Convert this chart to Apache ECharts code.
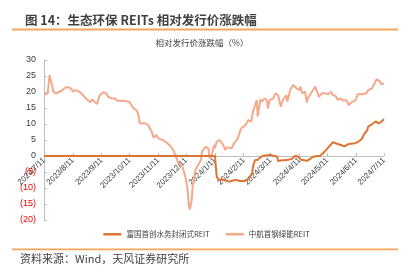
<!DOCTYPE html>
<html><head><meta charset="utf-8">
<script src="https://cdn.jsdelivr.net/npm/echarts@6/dist/echarts.min.js"></script>
<style>html,body{margin:0;padding:0;background:#fff}#c{width:413px;height:274px}</style>
</head><body><div id="c"></div>
<script>
const titleText = '图 14：生态环保 REITs 相对发行价涨跌幅';
const subTitleText = '相对发行价涨跌幅（%）';
const sourceText = '资料来源：Wind，天风证券研究所';
const seriesNames = ['富国首创水务封闭式REIT', '中航首钢绿能REIT'];

const darkDates = ['2023-07-11','2024-01-11','2024-01-12','2024-01-13','2024-01-15','2024-01-19','2024-01-24','2024-01-27','2024-02-02','2024-02-07','2024-02-12','2024-02-16','2024-02-18','2024-02-20','2024-02-21','2024-02-23','2024-02-25','2024-02-26','2024-02-29','2024-03-03','2024-03-07','2024-03-10','2024-03-14','2024-03-18','2024-03-19','2024-03-23','2024-03-26','2024-03-30','2024-04-03','2024-04-06','2024-04-09','2024-04-13','2024-04-15','2024-04-19','2024-04-22','2024-04-26','2024-04-30','2024-05-03','2024-05-06','2024-05-10','2024-05-12','2024-05-15','2024-05-17','2024-05-20','2024-05-22','2024-05-27','2024-05-30','2024-06-02','2024-06-07','2024-06-10','2024-06-13','2024-06-17','2024-06-19','2024-06-23','2024-06-24','2024-06-27','2024-06-29','2024-07-02','2024-07-05','2024-07-06','2024-07-08','2024-07-10','2024-07-11'];
const darkValues = [0,0,-3.5,-6.5,-7.5,-7.3,-7.8,-8,-7.4,-7.8,-7.8,-7.2,-6.3,-5.6,-3.3,-1.3,-0.7,-1.2,-0.4,0.1,0.2,0.4,0.1,-0.2,-1.6,-1.3,-1.3,-1.2,-0.9,0,-0.1,-1.2,-0.9,-1.5,-1.0,-0.2,0,0,0.8,2.0,2.7,3.6,4.3,4.0,3.7,3.3,3.0,3.7,3.9,4.0,4.4,5.3,6.5,8.1,9.2,9.7,9.2,10.8,10.2,9.7,10.7,11.2,11.5];

const lightDates = ['2023-07-11','2023-07-13','2023-07-15','2023-07-17','2023-07-20','2023-07-21','2023-07-24','2023-07-26','2023-07-30','2023-08-03','2023-08-07','2023-08-10','2023-08-11','2023-08-14','2023-08-18','2023-08-21','2023-08-24','2023-08-27','2023-08-30','2023-09-01','2023-09-03','2023-09-06','2023-09-07','2023-09-09','2023-09-13','2023-09-16','2023-09-18','2023-09-22','2023-09-25','2023-09-28','2023-10-03','2023-10-08','2023-10-11','2023-10-15','2023-10-17','2023-10-19','2023-10-21','2023-10-22','2023-10-24','2023-10-28','2023-10-31','2023-11-02','2023-11-04','2023-11-06','2023-11-09','2023-11-11','2023-11-16','2023-11-20','2023-11-24','2023-11-27','2023-11-30','2023-12-02','2023-12-07','2023-12-09','2023-12-11','2023-12-13','2023-12-14','2023-12-15','2023-12-17','2023-12-18','2023-12-21','2023-12-23','2023-12-25','2023-12-27','2023-12-28','2023-12-30','2024-01-01','2024-01-04','2024-01-05','2024-01-07','2024-01-08','2024-01-10','2024-01-11','2024-01-13','2024-01-16','2024-01-20','2024-01-22','2024-01-24','2024-01-26','2024-01-29','2024-02-01','2024-02-04','2024-02-06','2024-02-08','2024-02-10','2024-02-13','2024-02-16','2024-02-19','2024-02-21','2024-02-22','2024-02-23','2024-02-25','2024-02-26','2024-02-29','2024-03-02','2024-03-04','2024-03-07','2024-03-08','2024-03-10','2024-03-14','2024-03-16','2024-03-19','2024-03-22','2024-03-24','2024-03-28','2024-03-29','2024-04-01','2024-04-04','2024-04-06','2024-04-08','2024-04-11','2024-04-12','2024-04-14','2024-04-17','2024-04-19','2024-04-20','2024-04-22','2024-04-26','2024-04-28','2024-04-30','2024-05-02','2024-05-05','2024-05-08','2024-05-12','2024-05-15','2024-05-17','2024-05-20','2024-05-22','2024-05-25','2024-05-28','2024-05-31','2024-06-02','2024-06-03','2024-06-07','2024-06-10','2024-06-13','2024-06-15','2024-06-18','2024-06-22','2024-06-24','2024-06-28','2024-06-30','2024-07-03','2024-07-06','2024-07-08','2024-07-09','2024-07-11'];
const lightValues = [19.1,18.5,19.6,25.3,21.7,20.1,19.6,20,20.4,21.4,21.5,20.8,20.1,20.6,20.1,19.3,18.3,17.5,16.8,17.7,17,16.25,16.5,19,19.9,19.6,18.5,18,18,17.3,17.3,17.1,16.9,15,14.9,14.2,12.3,10.2,10.7,10.2,9.7,8.6,7.6,5.7,6.6,5.5,5,4.2,3.1,1.9,-0.2,-1.8,-3.3,-5.4,-7.5,-11.7,-15.8,-16.7,-13.75,-9.6,-4.4,-3.3,-3.8,-1.25,1.3,1.3,2.9,2.4,-0.7,-1.25,0.8,3.4,2.4,4.5,5,3.4,1.9,2.7,3.1,2.4,4.2,5.2,6.6,8.6,9.2,9.7,11.25,10.7,13.8,13.3,13.8,17.5,12.3,17.7,17,18,17.5,14.9,17.5,18,19.6,19,15.4,17.5,19,17,20.6,22.2,22.7,21.1,20.6,21.7,19.6,20.1,16.7,18,19,20.8,21.7,20.1,18.5,19.6,19.6,19.3,20.1,19,18.75,17.5,18,17.3,17.5,16.7,15.9,17,17.3,19.4,19,19.3,19.6,20.6,21.1,21.7,24,23.5,22.4,22.9,22.7];

const tickDates = ['2023-07-11','2023-08-11','2023-09-11','2023-10-11','2023-11-11','2023-12-11','2024-01-11','2024-02-11','2024-03-11','2024-04-11','2024-05-11','2024-06-11','2024-07-11'];
const yMin = -20, yMax = 30, yStep = 5;

function ts(s){const p=s.split('-');return new Date(+p[0],+p[1]-1,+p[2]).getTime();}
function zip(d,v){return d.map((x,i)=>[ts(x),v[i]]);}
const tickTs = tickDates.map(ts);

const gridTop = 60, gridBottom = 54, chartH = 274;
// offset that places the x axis on the zero value of the y axis
const zeroOffset = -((chartH - gridTop - gridBottom) * (0 - yMin) / (yMax - yMin));

const chart = echarts.init(document.getElementById('c'), null, {renderer:'canvas'});
chart.setOption({
  animation:false,
  backgroundColor:'#fff',
  title:{text:titleText,left:20,top:9,textStyle:{fontSize:12.5,fontWeight:'bold',color:'#404040',fontFamily:'Noto Sans CJK SC'}},
  graphic:[
    {type:'line',shape:{x1:12,y1:29.5,x2:398,y2:29.5},style:{stroke:'#F5A65B',lineWidth:1.8}},
    {type:'text',x:202,y:43,style:{text:subTitleText,fontSize:8.5,fill:'#404040',fontFamily:'Noto Sans CJK SC',align:'center',verticalAlign:'middle'}},
    {type:'line',shape:{x1:12,y1:249.3,x2:398,y2:249.3},style:{stroke:'#F5A65B',lineWidth:1.8}},
    {type:'text',x:20,y:259,style:{text:sourceText,fontSize:11,fill:'#404040',fontFamily:'Noto Sans CJK SC',verticalAlign:'middle'}}
  ],
  legend:{
    data:seriesNames,bottom:31,left:'center',itemWidth:18,itemHeight:2.5,icon:'rect',itemGap:16,
    textStyle:{fontSize:7.5,color:'#404040',fontFamily:'Noto Sans CJK SC'}
  },
  grid:{left:44,right:29,top:gridTop,bottom:gridBottom},
  xAxis:{
    type:'value',min:ts('2023-07-11'),max:ts('2024-07-11'),offset:zeroOffset,
    axisLine:{onZero:false,lineStyle:{color:'#BFBFBF',width:1}},
    axisTick:{show:true,inside:true,length:3,lineStyle:{color:'#BFBFBF'},customValues:tickTs},
    splitLine:{show:false},
    axisLabel:{
      customValues:tickTs,rotate:45,fontSize:8,color:'#404040',margin:3,fontFamily:'Liberation Sans',
      formatter:function(v){const d=new Date(v);return d.getFullYear()+'/'+(d.getMonth()+1)+'/'+d.getDate();}
    }
  },
  yAxis:{
    type:'value',min:yMin,max:yMax,interval:yStep,
    axisLine:{show:true,lineStyle:{color:'#BFBFBF',width:1}},
    axisTick:{show:true,inside:true,length:3,lineStyle:{color:'#BFBFBF'}},
    splitLine:{show:false},
    axisLabel:{
      fontSize:9,margin:8,fontFamily:'Liberation Sans',
      color:function(v){return (+v)<0?'#FF0000':'#404040';},
      formatter:function(v){return v<0?'('+(-v)+')':String(v);}
    }
  },
  series:[
    {name:seriesNames[0],type:'line',data:zip(darkDates,darkValues),showSymbol:false,symbol:'none',z:4,
     lineStyle:{color:'#DD7431',width:2},itemStyle:{color:'#DD7431'}},
    {name:seriesNames[1],type:'line',data:zip(lightDates,lightValues),showSymbol:false,symbol:'none',z:3,
     lineStyle:{color:'#F5A98A',width:2},itemStyle:{color:'#F5A98A'}}
  ]
});
</script></body></html>
